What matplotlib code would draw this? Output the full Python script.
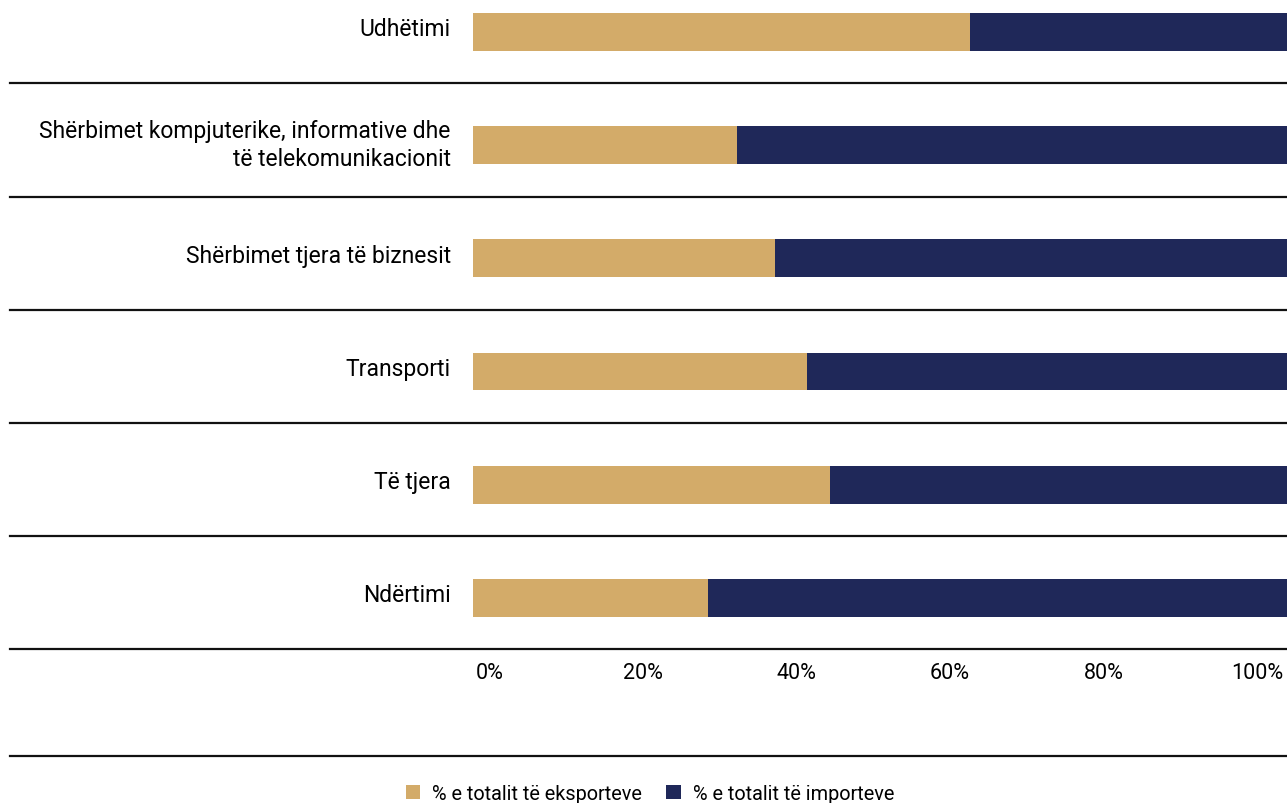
import numpy as np
import matplotlib
matplotlib.use("Agg")
import matplotlib.pyplot as plt
from matplotlib.transforms import ScaledTranslation

plt.rcParams['font.family'] = ['Roboto', 'DejaVu Sans']

categories = [
    "Udhëtimi",
    "Shërbimet kompjuterike, informative dhe\ntë telekomunikacionit",
    "Shërbimet tjera të biznesit",
    "Transporti",
    "Të tjera",
    "Ndërtimi",
]
exports = [61.1, 32.4, 37.1, 41.0, 43.9, 28.9]
imports = [100 - v for v in exports]
tick_values = [0, 20, 40, 60, 80, 100]
tick_labels = ["0%", "20%", "40%", "60%", "80%", "100%"]
legend_labels = ["% e totalit të eksporteve", "% e totalit të importeve"]

col_exp = "#D3AB69"
col_imp = "#1F2859"

W, H = 1287, 804
fig = plt.figure(figsize=(W / 100, H / 100), dpi=100)
ax = fig.add_axes([473 / W, 1 - 651 / H, 814 / W, 651 / H])

y = np.arange(len(categories))
ax.barh(y, exports, height=0.335, color=col_exp, label=legend_labels[0])
ax.barh(y, imports, left=exports, height=0.335, color=col_imp, label=legend_labels[1])

ax.set_xlim(0, 100)
ax.set_ylim(5.46, -0.29)

# row labels to the left of the bars, nudged up a little
ax.set_yticks(y)
ax.set_yticklabels(categories, fontsize=16.5, ha="right", linespacing=1.3)
ax.tick_params(axis="y", length=0, pad=16)
shift = ScaledTranslation(0, 4 / 72, fig.dpi_scale_trans)
for lab in ax.get_yticklabels():
    lab.set_transform(lab.get_transform() + shift)

# percent labels spread from the left edge to the right edge
pos = np.linspace(2.0, 96.3, len(tick_values))
ax.set_xticks(pos)
ax.set_xticklabels(tick_labels, fontsize=15.5)
ax.tick_params(axis="x", length=0, pad=9)

for s in ax.spines.values():
    s.set_visible(False)

# separators running across the whole width, labels included
xmin = (10 - 473) / 814
for yy in list(y + 0.455) + [y[-1] + 1.395]:
    ax.axhline(yy, xmin=xmin, xmax=1, color="#111111", lw=1.6, clip_on=False)

fig.legend(loc="lower center", ncol=2, frameon=False, fontsize=14.3,
           handlelength=0.75, handleheight=0.75, handletextpad=0.6,
           columnspacing=1.2, bbox_to_anchor=(0.505, -0.022))

fig.savefig("out.png", dpi=100)
